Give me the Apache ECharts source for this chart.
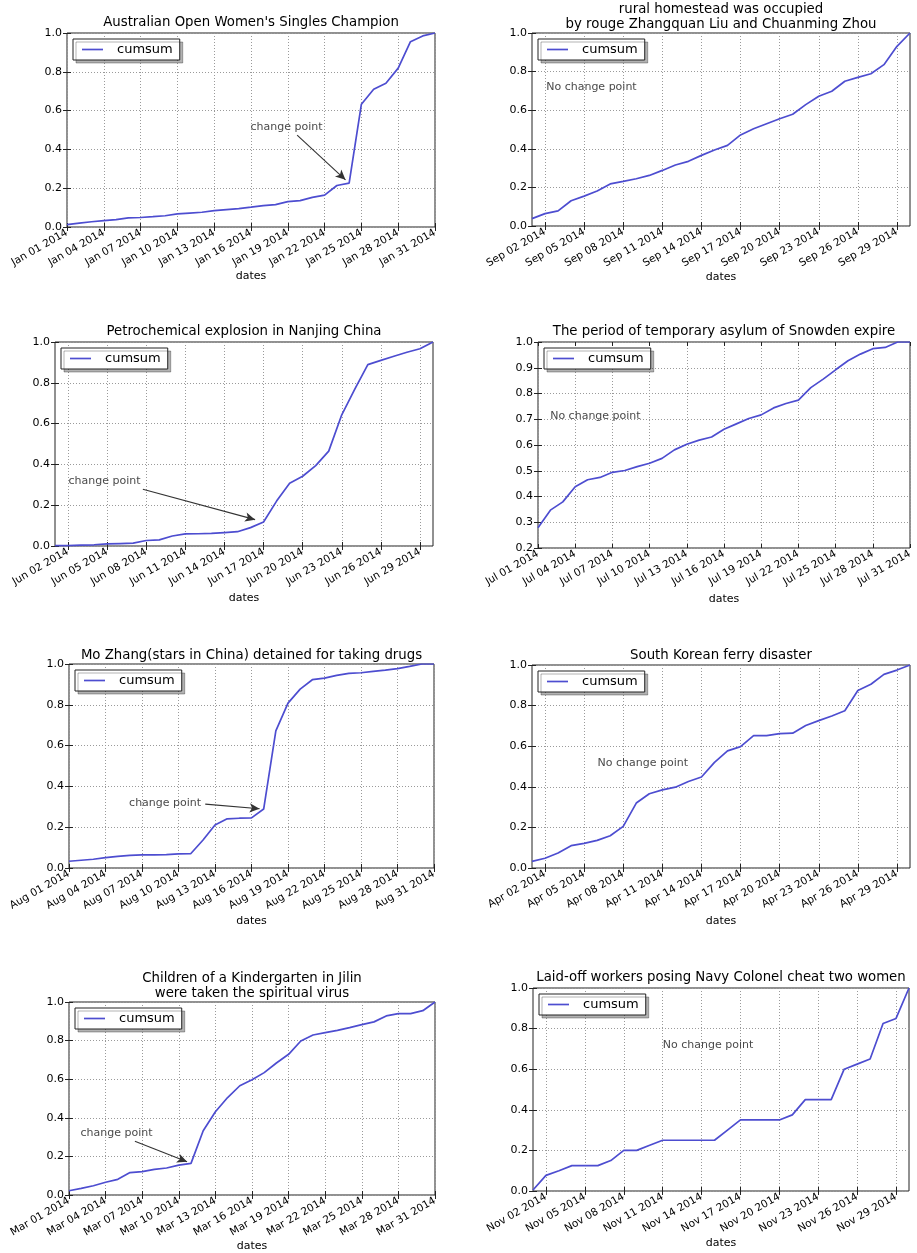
<!DOCTYPE html>
<html>
<head>
<meta charset="utf-8">
<script src="https://cdn.jsdelivr.net/npm/echarts@6/dist/echarts.min.js"></script>
<style>
  html, body { margin: 0; padding: 0; background: #fff; }
  #chart { width: 917px; height: 1253px; }
</style>
</head>
<body>
<div id="chart"></div>
<script>
// ---- data ----------------------------------------------------------------
const YEAR = '2014';

const titles = [
  "Australian Open Women's Singles Champion",
  "rural homestead was occupied\nby rouge Zhangquan Liu and Chuanming Zhou",
  "Petrochemical explosion in Nanjing China",
  "The period of temporary asylum of Snowden expire",
  "Mo Zhang(stars in China) detained for taking drugs",
  "South Korean ferry disaster",
  "Children of a Kindergarten in Jilin\nwere taken the spiritual virus",
  "Laid-off workers posing Navy Colonel cheat two women"
];

const months = ['Jan', 'Sep', 'Jun', 'Jul', 'Aug', 'Apr', 'Mar', 'Nov'];

// day of month carrying the first labelled tick (ticks every 3 days)
const firstTickDay = [1, 2, 2, 1, 1, 2, 1, 2];

// normalised cumulative counts, one value per day
const cumsumJan = [0.012, 0.020, 0.027, 0.033, 0.038, 0.047, 0.049, 0.053, 0.058, 0.068,
  0.072, 0.076, 0.084, 0.090, 0.095, 0.102, 0.110, 0.115, 0.131, 0.136,
  0.153, 0.164, 0.214, 0.226, 0.633, 0.710, 0.741, 0.819, 0.955, 0.985, 1.000];
const cumsumSep = [0.038, 0.064, 0.078, 0.131, 0.155, 0.181, 0.218, 0.231, 0.245, 0.262,
  0.288, 0.316, 0.335, 0.366, 0.394, 0.418, 0.472, 0.504, 0.530, 0.556,
  0.579, 0.629, 0.672, 0.698, 0.750, 0.770, 0.789, 0.836, 0.931, 1.000];
const cumsumJun = [0.002, 0.002, 0.004, 0.006, 0.010, 0.012, 0.014, 0.027, 0.030, 0.049,
  0.059, 0.060, 0.062, 0.066, 0.070, 0.090, 0.118, 0.220, 0.308, 0.342,
  0.394, 0.465, 0.643, 0.769, 0.889, 0.910, 0.930, 0.950, 0.967, 1.000];
const cumsumJul = [0.279, 0.347, 0.379, 0.438, 0.465, 0.474, 0.494, 0.501, 0.516, 0.529,
  0.548, 0.581, 0.603, 0.619, 0.631, 0.661, 0.682, 0.703, 0.717, 0.744,
  0.761, 0.774, 0.823, 0.856, 0.892, 0.927, 0.953, 0.974, 0.979, 1.000, 1.000];
const cumsumAug = [0.033, 0.038, 0.043, 0.051, 0.057, 0.062, 0.064, 0.064, 0.066, 0.069,
  0.070, 0.136, 0.211, 0.241, 0.244, 0.246, 0.289, 0.672, 0.808, 0.877,
  0.923, 0.931, 0.944, 0.954, 0.957, 0.964, 0.970, 0.977, 0.988, 1.000, 1.000];
const cumsumApr = [0.033, 0.048, 0.074, 0.110, 0.121, 0.136, 0.159, 0.205, 0.320, 0.366,
  0.385, 0.398, 0.426, 0.448, 0.520, 0.577, 0.598, 0.652, 0.652, 0.662,
  0.664, 0.702, 0.726, 0.749, 0.775, 0.874, 0.905, 0.954, 0.975, 1.000];
const cumsumMar = [0.022, 0.034, 0.048, 0.066, 0.081, 0.116, 0.121, 0.133, 0.140, 0.155,
  0.164, 0.333, 0.431, 0.505, 0.566, 0.597, 0.634, 0.684, 0.729, 0.798,
  0.829, 0.841, 0.853, 0.867, 0.883, 0.897, 0.928, 0.940, 0.940, 0.955, 1.000];
const cumsumNov = [0.005, 0.077, 0.100, 0.125, 0.125, 0.125, 0.150, 0.200, 0.200, 0.225,
  0.250, 0.250, 0.250, 0.250, 0.250, 0.300, 0.350, 0.350, 0.350, 0.350,
  0.375, 0.450, 0.450, 0.450, 0.600, 0.625, 0.650, 0.825, 0.850, 1.000];

const panelValues = [cumsumJan, cumsumSep, cumsumJun, cumsumJul, cumsumAug, cumsumApr, cumsumMar, cumsumNov];

// index (day - 1) of the detected change point, null when there is none
const changePointIdx = [23, null, 16, null, 16, null, 10, null];

// y axis ranges
const yMin = [0, 0, 0, 0.2, 0, 0, 0, 0];
const yStep = [0.2, 0.2, 0.2, 0.1, 0.2, 0.2, 0.2, 0.2];

// ---- layout ----------------------------------------------------------------
const gridRects = [
  { left: 67,  top: 33,   width: 368, height: 194 },
  { left: 532, top: 33,   width: 378, height: 193 },
  { left: 55,  top: 342,  width: 378, height: 204 },
  { left: 538, top: 342,  width: 372, height: 206 },
  { left: 69,  top: 664,  width: 365, height: 204 },
  { left: 532, top: 665,  width: 378, height: 203 },
  { left: 69,  top: 1002, width: 366, height: 193 },
  { left: 533, top: 988,  width: 376, height: 203 }
];
const titleCenterY = [23, 17, 332, 332, 656, 656, 986, 978];
const datesGap = [44, 45, 47, 46, 48, 48, 44, 47];

// annotation placement in data space: [dayIndex, value]
const noteText = [[17.9, 0.517], [4.56, 0.717], [3.8, 0.316], [4.63, 0.713],
                  [7.9, 0.316], [8.5, 0.516], [3.9, 0.322], [13.5, 0.717]];
const arrowStart = [[18.76, 0.474], null, [6.74, 0.278], null, [11.2, 0.313], null, [5.4, 0.279], null];

// ---- build option -----------------------------------------------------------
const LINE_BLUE = '#4d4dd0';
const FONT = 'DejaVu Sans';

const grids = [], xAxes = [], yAxes = [], series = [], legends = [], graphics = [];

panelValues.forEach((vals, p) => {
  const n = vals.length;
  const dates = vals.map((_, i) => `${months[p]} ${String(i + 1).padStart(2, '0')} ${YEAR}`);
  const ticks = [];
  for (let i = firstTickDay[p] - 1; i < n; i += 3) ticks.push(i);

  const r = gridRects[p];
  grids.push({ left: r.left, top: r.top, width: r.width, height: r.height,
    show: true, borderColor: '#222', borderWidth: 1, backgroundColor: 'transparent' });

  const grid = { type: [1, 2], color: '#9a9a9a', width: 1 };

  xAxes.push({
    type: 'value', gridIndex: p, position: 'bottom', min: 0, max: n - 1,
    axisLine: { show: false },
    axisTick: { show: true, inside: true, length: 4, customValues: ticks, lineStyle: { color: '#222' } },
    axisLabel: { customValues: ticks, rotate: 30, margin: 5, fontSize: 10.5, color: '#000',
      fontFamily: FONT, formatter: v => dates[Math.round(v)] },
    splitLine: { show: true, lineStyle: grid },
    name: 'dates', nameLocation: 'middle', nameGap: datesGap[p],
    nameTextStyle: { fontSize: 11, color: '#000', fontFamily: FONT }
  });
  xAxes.push({
    type: 'value', gridIndex: p, position: 'top', min: 0, max: n - 1,
    axisLine: { show: false },
    axisTick: { show: true, inside: true, length: 4, customValues: ticks, lineStyle: { color: '#222' } },
    axisLabel: { show: false }, splitLine: { show: false }
  });
  yAxes.push({
    type: 'value', gridIndex: p, position: 'left', min: yMin[p], max: 1, interval: yStep[p],
    axisLine: { show: false },
    axisTick: { show: true, inside: true, length: 4, lineStyle: { color: '#222' } },
    axisLabel: { margin: 5, fontSize: 11, color: '#000', fontFamily: FONT, formatter: v => v.toFixed(1) },
    splitLine: { show: true, lineStyle: grid }
  });
  yAxes.push({
    type: 'value', gridIndex: p, position: 'right', min: yMin[p], max: 1, interval: yStep[p],
    axisLine: { show: false },
    axisTick: { show: true, inside: true, length: 4, lineStyle: { color: '#222' } },
    axisLabel: { show: false }, splitLine: { show: false }
  });

  const s = {
    type: 'line', name: 'cumsum', xAxisIndex: 2 * p, yAxisIndex: 2 * p,
    data: vals.map((v, i) => [i, v]),
    symbol: 'none', lineStyle: { color: LINE_BLUE, width: 1.7 }, itemStyle: { color: LINE_BLUE },
    z: 3, silent: true
  };

  const cp = changePointIdx[p];
  const note = noteText[p];
  s.markPoint = {
    silent: true, animation: false,
    data: [{
      coord: note, symbol: 'circle', symbolSize: 1, itemStyle: { color: 'rgba(0,0,0,0)' },
      label: { show: true, position: 'inside', formatter: cp == null ? 'No change point' : 'change point',
        color: '#4a4a4a', fontSize: 11, fontFamily: FONT }
    }]
  };
  if (cp != null) {
    const st = arrowStart[p];
    const px = cp, py = vals[cp];
    const f = 0.93;
    const tip = [st[0] + f * (px - st[0]), st[1] + f * (py - st[1])];
    s.markLine = {
      silent: true, animation: false,
      symbol: ['none', 'arrow'], symbolSize: [7, 10],
      lineStyle: { color: '#333', width: 1.1, type: 'solid' },
      label: { show: false },
      data: [[{ coord: st }, { coord: tip }]]
    };
  }
  series.push(s);

  legends.push({
    data: ['cumsum'], left: r.left + 6, top: r.top + 6,
    selectedMode: false, orient: 'vertical',
    icon: 'rect', itemWidth: 21, itemHeight: 1.7,
    itemStyle: { color: LINE_BLUE },
    backgroundColor: '#fff', borderColor: '#222', borderWidth: 1,
    padding: [4, 7, 4, 9],
    shadowColor: 'rgba(0,0,0,0.3)', shadowOffsetX: 3, shadowOffsetY: 3, shadowBlur: 0,
    textStyle: { fontSize: 13, color: '#000', fontFamily: FONT, padding: [0, 0, 0, 9] }
  });

  graphics.push({
    type: 'text', x: r.left + r.width / 2, y: titleCenterY[p],
    style: { text: titles[p], font: `13.3px "${FONT}"`, fill: '#000',
      align: 'center', verticalAlign: 'middle', lineHeight: 14.5 }
  });
});

const chart = echarts.init(document.getElementById('chart'), null, { renderer: 'canvas' });
chart.setOption({
  animation: false,
  backgroundColor: '#fff',
  textStyle: { fontFamily: FONT },
  grid: grids,
  xAxis: xAxes,
  yAxis: yAxes,
  legend: legends,
  series: series,
  graphic: graphics
});
</script>
</body>
</html>
